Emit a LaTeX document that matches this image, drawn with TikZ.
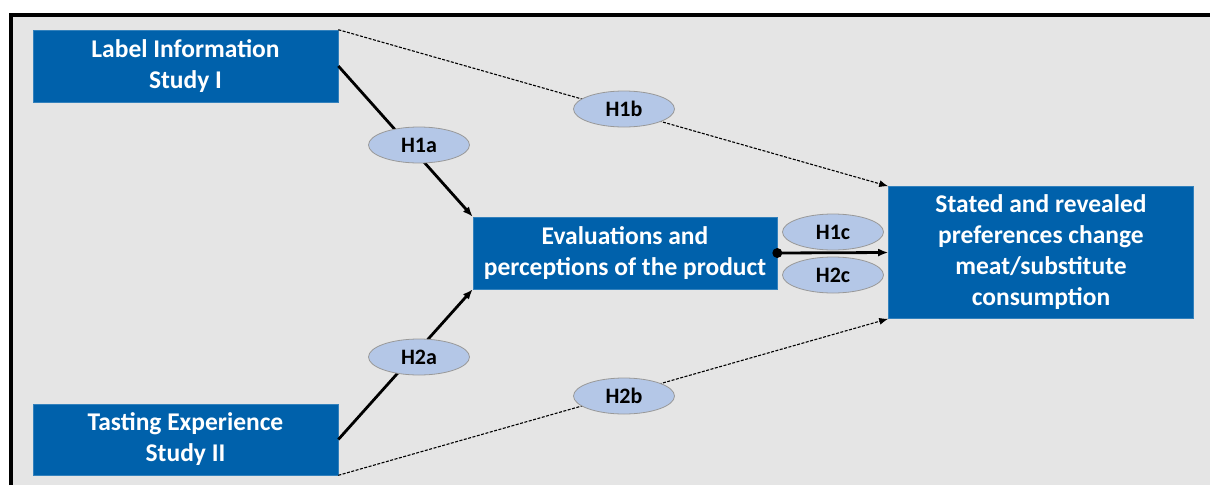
\documentclass[tikz,border=0pt]{standalone}
\usepackage{fontspec}
\setmainfont{Carlito}
\usetikzlibrary{arrows.meta,shapes.geometric}
\definecolor{boxblue}{HTML}{0061AB}
\definecolor{ellblue}{HTML}{B4C7E7}
\definecolor{bggray}{HTML}{E5E5E5}
\tikzset{
  bluebox/.style={draw=boxblue!80!white, line width=0.6pt, fill=boxblue, text=white, font=\fontsize{25.5}{31}\selectfont\bfseries, align=center, inner sep=0pt},
  hyp/.style={ellipse, draw=gray!80, line width=0.8pt, fill=ellblue, minimum width=101pt, minimum height=36pt, inner sep=0pt, font=\fontsize{22}{24}\selectfont\bfseries},
  solidarrow/.style={line width=2.8pt, -{Latex[length=10pt,width=8pt]}},
  dasharrow/.style={line width=1.1pt, dash pattern=on 3pt off 1.5pt, -{Latex[length=9pt,width=7pt]}}
}
\begin{document}
\begin{tikzpicture}[x=1pt,y=-1pt]
\useasboundingbox (0,0) rectangle (1210,485);
\fill[white] (0,0) rectangle (1210,485);
\fill[bggray] (11,15) rectangle (1210,485);
\draw[line width=4pt] (11,485) -- (11,15) -- (1210,15);
% boxes
\node[bluebox, minimum width=305pt, minimum height=72pt] (label) at (185.5,66) {Label Information\\Study I};
\node[bluebox, minimum width=305pt, minimum height=71pt] (taste) at (185.5,439.5) {Tasting Experience\\Study II};
\node[bluebox, minimum width=304pt, minimum height=72pt] (eval) at (625,253) {Evaluations and\\perceptions of the product};
\node[bluebox, minimum width=305pt, minimum height=132pt] (stated) at (1041,252.5) {Stated and revealed\\preferences change\\meat/substitute\\consumption};
% connectors
\draw[solidarrow] (label.east) -- (eval.north west);
\draw[solidarrow] (taste.east) -- (eval.south west);
\draw[dasharrow] (label.north east) -- (stated.north west);
\draw[dasharrow] (taste.south east) -- (stated.south west);
\draw[solidarrow] (eval.east) -- (stated.west);
\fill (eval.east) circle (5pt);
% hypotheses
\node[hyp] (h1a) at (419,145) {H1a};
\node[hyp] (h2a) at (419,357) {H2a};
\node[hyp] (h1b) at (624,109) {H1b};
\node[hyp] (h2b) at (624,396) {H2b};
\node[hyp] (h1c) at (833,232) {H1c};
\node[hyp] (h2c) at (833,275) {H2c};
\end{tikzpicture}
\end{document}
